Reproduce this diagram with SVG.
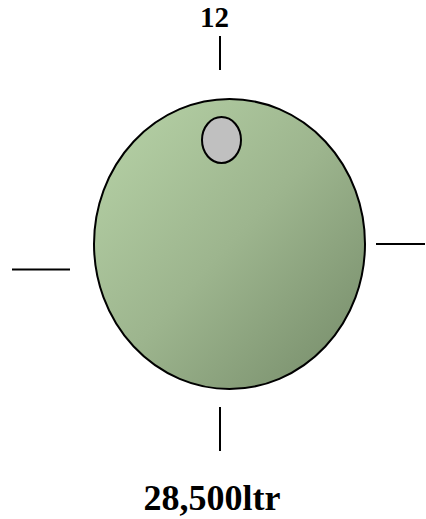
<svg xmlns="http://www.w3.org/2000/svg" width="426" height="519" viewBox="0 0 426 519">
<defs>
<linearGradient id="g" x1="0" y1="0" x2="1" y2="1">
<stop offset="0" stop-color="#b8d4a8"/>
<stop offset="0.5" stop-color="#9db58e"/>
<stop offset="1" stop-color="#748a68"/>
</linearGradient>
<style>
.ln{stroke:#000;stroke-width:2;fill:none}
.t{font-family:"Liberation Serif",serif;font-weight:bold;fill:#000;text-anchor:middle}
</style>
</defs>
<g id="connectors">
<line class="ln" x1="220" y1="36" x2="220" y2="70"/>
<line class="ln" x1="220" y1="407" x2="220" y2="451"/>
<line class="ln" x1="12" y1="269.5" x2="70" y2="269.5"/>
<line class="ln" x1="376" y1="244" x2="425" y2="244"/>
</g>
<g id="tank">
<ellipse cx="229.5" cy="244" rx="135.5" ry="145" fill="url(#g)" stroke="#000" stroke-width="2"/>
</g>
<g id="port">
<ellipse cx="221.5" cy="140" rx="19.5" ry="23" fill="#c0c0c0" stroke="#000" stroke-width="2"/>
</g>
<g id="label-top">
<text class="t" x="214.5" y="27" font-size="29">12</text>
</g>
<g id="label-bottom">
<text class="t" x="212" y="510" font-size="36">28,500ltr</text>
</g>
</svg>
